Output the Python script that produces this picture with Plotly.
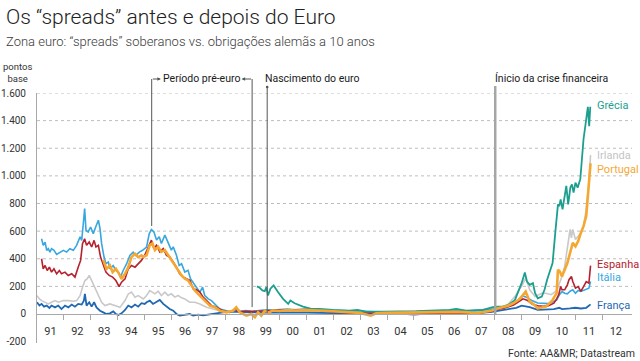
import plotly.graph_objects as go

# ---------------- data (decimal years, basis points) ----------------
italia_t = [1991.17,1991.23,1991.30,1991.36,1991.42,1991.48,1991.54,1991.63,1991.73,1991.85,1991.98,
            1992.10,1992.22,1992.35,1992.47,1992.60,1992.66,1992.72,1992.77,1992.82,1992.90,1992.99,
            1993.09,1993.18,1993.28,1993.34,1993.40,1993.49,1993.56,1993.65,1993.71,1993.83,1993.93,
            1994.02,1994.10,1994.20,1994.33,1994.45,1994.57,1994.67,1994.80,1994.92,
            1995.07,1995.17,1995.25,1995.34,1995.44,1995.54,1995.62,1995.75,1995.87,1995.99,
            1996.06,1996.18,1996.28,1996.37,1996.49,1996.61,1996.70,1996.80,1996.92,
            1997.05,1997.15,1997.23,1997.36,1997.48,1997.60,1997.79,
            1998.04,1998.28,1998.40,1998.55,1998.75,1999.00,1999.25,1999.50,1999.75,
            2000.00,2000.30,2000.60,2001.00,2001.50,2002.00,2002.50,2003.00,2003.50,2004.00,2004.50,
            2005.00,2005.50,2006.00,2006.50,2007.00,2007.50,2007.90,
            2008.10,2008.30,2008.50,2008.70,2008.90,2009.05,2009.20,2009.40,2009.60,2009.80,
            2010.00,2010.20,2010.30,2010.40,2010.50,2010.60,2010.70,2010.80,2010.90,
            2011.00,2011.10,2011.20,2011.30,2011.40,2011.50,2011.56]
italia_v = [545,497,521,461,473,448,473,461,431,448,461,
            448,473,461,497,558,533,654,764,606,594,630,
            582,630,679,618,509,412,364,376,327,351,315,
            303,267,315,364,424,448,424,448,461,
            485,582,612,595,535,559,510,571,510,462,
            486,425,352,364,304,316,255,231,194,
            158,194,134,109,97,73,36,
            24,15,40,20,25,20,25,30,28,
            30,35,30,35,30,25,20,18,15,12,15,
            15,18,22,25,22,28,35,
            45,40,53,70,100,130,120,95,80,75,
            75,90,100,138,163,150,146,165,175,
            150,170,163,170,175,187,235]

espanha_t = [1991.17,1991.23,1991.30,1991.38,1991.46,1991.54,1991.63,1991.73,1991.83,1991.91,
             1992.04,1992.16,1992.29,1992.41,1992.53,1992.62,1992.69,1992.77,1992.84,1992.94,
             1993.03,1993.12,1993.19,1993.28,1993.36,1993.46,1993.56,1993.68,1993.81,1993.93,
             1994.05,1994.14,1994.27,1994.39,1994.51,1994.64,1994.76,1994.88,
             1995.00,1995.13,1995.25,1995.34,1995.44,1995.56,1995.69,1995.81,1995.93,
             1996.06,1996.18,1996.30,1996.43,1996.55,1996.68,1996.80,1996.92,
             1997.05,1997.17,1997.30,1997.48,1997.66,1997.91,
             1998.16,1998.35,1998.50,1998.75,1999.00,1999.25,1999.50,1999.75,
             2000.00,2000.50,2001.00,2001.50,2002.00,2002.50,2003.00,2003.50,2004.00,2004.50,
             2005.00,2005.50,2006.00,2006.50,2007.00,2007.50,2007.90,
             2008.10,2008.30,2008.50,2008.70,2008.90,2009.05,2009.20,2009.40,2009.60,2009.80,
             2010.00,2010.20,2010.30,2010.38,2010.45,2010.50,2010.60,2010.70,2010.76,2010.85,2010.90,
             2011.00,2011.10,2011.20,2011.30,2011.40,2011.50,2011.56]
espanha_v = [400,327,351,315,339,303,327,291,315,291,
             303,279,291,267,339,388,509,545,497,521,
             485,533,485,497,412,364,303,279,267,242,
             199,230,254,327,351,339,364,388,
             425,486,535,474,498,450,474,425,413,
             377,340,292,267,255,243,182,175,
             158,122,97,61,49,24,
             12,35,15,20,18,22,25,25,
             28,30,32,28,15,10,8,5,5,3,
             -5,2,3,5,5,10,20,
             35,40,50,65,90,110,100,70,60,55,
             60,78,110,140,199,175,175,211,248,272,235,
             187,199,163,199,235,223,350]

portugal_t = [1993.46,1993.52,1993.58,1993.71,1993.81,1993.93,
              1994.05,1994.14,1994.27,1994.39,1994.51,1994.64,1994.76,1994.88,1994.94,
              1995.07,1995.19,1995.29,1995.38,1995.50,1995.62,1995.75,1995.87,1995.99,
              1996.12,1996.24,1996.37,1996.49,1996.61,1996.74,1996.86,1996.98,
              1997.11,1997.23,1997.42,1997.60,1997.79,
              1998.04,1998.28,1998.40,1998.53,1998.78,1998.96,
              1999.09,1999.21,1999.33,1999.46,1999.60,1999.75,
              2000.00,2000.30,2000.60,2001.00,2001.50,2002.00,2002.50,2003.00,2003.40,2003.60,
              2004.00,2004.50,2005.00,2005.50,2006.00,2006.50,2007.00,2007.30,2007.60,2007.90,
              2008.10,2008.30,2008.50,2008.70,2008.90,2009.00,2009.15,2009.30,2009.45,2009.60,2009.80,2009.90,
              2010.05,2010.15,2010.22,2010.30,2010.35,2010.42,2010.50,2010.60,2010.70,2010.80,2010.90,
              2011.00,2011.10,2011.20,2011.30,2011.40,2011.45,2011.50,2011.56]
portugal_v = [392,350,327,351,303,327,
              291,254,291,339,412,436,412,424,413,
              425,498,510,462,486,450,462,425,389,
              352,316,279,255,243,207,170,146,
              122,97,61,49,24,
              12,24,49,12,-12,0,
              -24,12,-12,24,10,25,
              22,28,25,28,25,20,15,8,-12,5,
              8,10,8,10,12,15,12,5,15,25,
              40,50,60,78,105,126,163,90,70,41,50,53,
              80,100,126,150,320,308,272,320,369,442,515,
              490,527,587,636,709,830,1000,1090]

irlanda_t = [1991.00,1991.09,1991.17,1991.30,1991.42,1991.54,1991.67,1991.79,1991.98,
             1992.17,1992.35,1992.47,1992.60,1992.69,1992.78,1992.86,1992.94,
             1993.03,1993.15,1993.28,1993.40,1993.52,1993.71,1993.89,
             1994.08,1994.27,1994.39,1994.51,1994.64,1994.76,1994.95,
             1995.07,1995.19,1995.38,1995.50,1995.62,1995.75,1995.87,1995.99,
             1996.12,1996.24,1996.37,1996.49,1996.67,1996.86,
             1997.05,1997.30,1997.54,1997.79,
             1998.16,1998.35,1998.55,1998.80,1999.00,1999.50,
             2000.00,2000.50,2001.00,2001.50,2002.00,2002.50,2003.00,2003.50,2004.00,2004.50,
             2005.00,2005.50,2006.00,2006.50,2007.00,2007.50,2007.90,
             2008.10,2008.30,2008.50,2008.75,2008.90,2009.00,2009.15,2009.30,2009.50,2009.75,2009.90,
             2010.10,2010.30,2010.40,2010.50,2010.60,2010.70,2010.80,2010.85,2010.90,
             2011.00,2011.10,2011.20,2011.30,2011.40,2011.50,2011.56]
irlanda_v = [133,109,97,85,73,85,97,85,97,
             97,92,97,133,194,242,254,279,
             242,194,145,85,61,73,61,
             48,97,145,158,121,133,109,
             134,170,146,165,134,158,134,146,
             122,134,117,109,85,85,
             73,49,36,24,
             12,30,15,10,12,18,
             20,22,20,18,15,10,5,3,3,2,
             0,2,5,8,10,18,30,
             40,55,70,126,175,200,260,175,126,150,150,
             140,170,223,272,345,490,612,551,612,
             539,563,587,636,757,951,1150]

franca_t = [1991.00,1991.09,1991.17,1991.26,1991.36,1991.46,1991.54,1991.67,1991.79,1991.91,
            1992.04,1992.16,1992.29,1992.41,1992.53,1992.66,1992.74,1992.78,1992.84,1992.94,
            1993.03,1993.12,1993.21,1993.34,1993.46,1993.58,1993.71,1993.83,1993.93,
            1994.02,1994.14,1994.27,1994.39,1994.51,1994.64,1994.76,1994.88,
            1995.00,1995.07,1995.19,1995.31,1995.44,1995.56,1995.69,1995.81,1995.93,
            1996.06,1996.18,1996.30,1996.43,1996.55,1996.67,1996.80,1996.98,
            1997.17,1997.42,1997.66,1997.91,1998.22,1998.50,1998.80,1999.10,1999.50,
            2000.00,2000.50,2001.00,2001.50,2002.00,2002.50,2003.00,2003.50,2004.00,2004.50,
            2005.00,2005.50,2006.00,2006.50,2007.00,2007.50,2007.90,
            2008.20,2008.50,2008.80,2009.00,2009.15,2009.30,2009.60,2009.80,
            2010.00,2010.20,2010.40,2010.50,2010.80,2011.00,2011.20,2011.40,2011.56]
franca_v = [85,61,73,53,61,44,61,48,61,36,
            61,48,68,53,73,68,97,145,61,85,
            53,85,48,24,12,0,5,19,0,
            -7,5,29,61,48,68,53,78,
            73,85,97,73,85,102,73,53,36,
            24,0,-12,-7,-5,0,-12,-5,
            -10,-5,5,12,17,15,12,10,10,
            10,12,10,8,5,5,5,3,3,3,
            3,3,3,4,5,8,15,
            25,30,45,60,55,50,30,30,
            32,35,45,35,40,45,40,45,70]

grecia_t = [1999.17,1999.27,1999.37,1999.46,1999.52,1999.58,1999.67,1999.79,1999.95,
            2000.14,2000.33,2000.41,2000.57,2000.88,2001.19,2001.50,2001.99,2002.61,2002.90,
            2003.23,2003.85,2005.09,2006.32,2006.57,2006.94,2007.56,2007.93,
            2008.12,2008.30,2008.50,2008.75,2008.90,2009.00,2009.12,2009.20,2009.30,2009.42,
            2009.50,2009.60,2009.75,2009.85,2009.95,2010.05,2010.15,2010.25,2010.35,2010.40,
            2010.45,2010.52,2010.66,2010.73,2010.81,2010.87,2010.93,
            2011.00,2011.08,2011.18,2011.24,2011.30,2011.36,2011.42,2011.46,2011.51,2011.55]
grecia_v = [200,190,171,166,195,134,183,207,159,
            110,73,98,78,54,37,37,29,24,29,
            17,17,20,29,37,24,29,49,
            54,53,65,100,175,223,300,235,211,223,
            150,114,126,175,250,308,369,587,794,781,
            830,757,927,794,915,939,879,
            951,915,976,1146,1267,1352,1449,1500,1360,1500]

year_labels = ["91","92","93","94","95","96","97","98","99","00","01",
               "02","03","04","05","06","07","08","09","10","11","12"]
y_ticks = [-200, 0, 200, 400, 600, 800, 1000, 1200, 1400, 1600]
y_tick_text = ["-200", "0", "200", "400", "600", "800", "1.000", "1.200", "1.400", "1.600"]

# ---------------- styling ----------------
FONT = "Roboto"
YMIN, YMAX = -210, 1600
XMIN, XMAX = 1991, 2013.1
L, R, T, B = 37, 8, 93, 18
W, H = 640, 361
PW, PH = W - L - R, H - T - B


def py(pix):
    """pixel row -> paper y"""
    return (H - B - pix) / PH


def pv(v):
    """data value -> paper y"""
    return (v - YMIN) / (YMAX - YMIN)


def px_x(p):
    """pixel column -> paper x"""
    return (p - L) / PW


series = [
    ("Irlanda", irlanda_t, irlanda_v, "#c9c9c9", 1.6),
    ("França", franca_t, franca_v, "#1f68b2", 1.8),
    ("Itália", italia_t, italia_v, "#37a7df", 1.6),
    ("Espanha", espanha_t, espanha_v, "#b5222e", 1.6),
    ("Grécia", grecia_t, grecia_v, "#1c9f8f", 1.8),
    ("Portugal", portugal_t, portugal_v, "#f6a732", 2.6),
]

fig = go.Figure()
for name, t, v, col, w in series:
    fig.add_trace(go.Scatter(x=t, y=v, mode="lines", name=name,
                             line=dict(color=col, width=w), showlegend=False,
                             hoverinfo="skip"))

shapes = []
for g in [200, 400, 600, 800, 1000, 1200, 1400, 1600]:
    shapes.append(dict(type="line", xref="paper", yref="y", x0=0, x1=1, y0=g, y1=g,
                       line=dict(color="#bdbdbd", width=1, dash="dot"), layer="below"))

LC = "#555555"
shapes.append(dict(type="line", xref="x", yref="paper", x0=1995.26, x1=1995.26,
                   y0=pv(637), y1=py(79), line=dict(color=LC, width=1)))
shapes.append(dict(type="line", xref="x", yref="paper", x0=1998.99, x1=1998.99,
                   y0=pv(50), y1=py(79), line=dict(color=LC, width=1)))
shapes.append(dict(type="line", xref="x", yref="paper", x0=1999.55, x1=1999.55,
                   y0=pv(7), y1=py(87), line=dict(color=LC, width=1)))
shapes.append(dict(type="circle", xref="x", yref="paper", xsizemode="pixel", ysizemode="pixel",
                   xanchor=1999.55, yanchor=py(87), x0=-1.3, x1=1.3, y0=-1.3, y1=1.3,
                   fillcolor=LC, line=dict(width=0)))
shapes.append(dict(type="line", xref="x", yref="paper", x0=2008.02, x1=2008.02,
                   y0=pv(-8), y1=py(86), line=dict(color="#a6a6a6", width=2.5)))

annotations = []
annotations.append(dict(x=1995.60, y=py(79), xref="x", yref="paper", text="",
                        showarrow=True, ax=-9.5, ay=0, arrowhead=2, arrowsize=0.7,
                        arrowwidth=1, arrowcolor=LC, standoff=0))
annotations.append(dict(x=1998.60, y=py(79), xref="x", yref="paper", text="",
                        showarrow=True, ax=11, ay=0, arrowhead=2, arrowsize=0.7,
                        arrowwidth=1, arrowcolor=LC, standoff=0))


def txt(s, x, y, size, color="#1a1a1a", xanchor="left", xref="paper", yref="paper", weight=None):
    f = dict(family=FONT, size=size, color=color)
    if weight:
        f["weight"] = weight
    annotations.append(dict(text=s, x=x, y=y, xref=xref, yref=yref, xanchor=xanchor,
                            yanchor="middle", showarrow=False, font=f))


txt("Os “spreads” antes e depois do Euro", px_x(4), py(17), 21, "#222222", weight=300)
txt("Zona euro: “spreads” soberanos vs. obrigações alemãs a 10 anos", px_x(4), py(41), 13, "#3a3a3a", weight=300)
txt("pontos<br>base", px_x(1), py(73), 9.5, "#333333")
txt("Período pré-euro", px_x(161), py(79), 10.5)
txt("Nascimento do euro", px_x(263), py(79), 10.5)
txt("Ínicio da crise financeira", px_x(493), py(79), 10.5)
txt("Fonte: AA&MR; Datastream", px_x(637), py(353), 10.5, "#333333", xanchor="right")

for name, yv, col in [("Grécia", 1506, "#1c9f8f"), ("Irlanda", 1144, "#c4c4c4"),
                      ("Portugal", 1043, "#f6a732"), ("Espanha", 355, "#b5222e"),
                      ("Itália", 264, "#37a7df"), ("França", 65, "#1f68b2")]:
    txt(name, 2011.74, yv, 11, col, xref="x", yref="y")

fig.update_layout(
    width=W, height=H,
    margin=dict(l=L, r=R, t=T, b=B, pad=0, autoexpand=False),
    paper_bgcolor="white", plot_bgcolor="white",
    shapes=shapes, annotations=annotations,
    font=dict(family=FONT, color="#333333"),
    xaxis=dict(range=[XMIN, XMAX], anchor="free", position=pv(0), automargin=False,
               showline=True, linecolor="#a8a8a8", linewidth=1,
               showgrid=False, zeroline=False,
               tickvals=[1991.5 + i for i in range(len(year_labels))], ticktext=year_labels,
               ticks="", ticklabelstandoff=7,
               tickfont=dict(family=FONT, size=11, color="#333333"),
               minor=dict(tickvals=list(range(1992, 2013)), ticks="outside", ticklen=5,
                          tickcolor="#a8a8a8", showgrid=False)),
    yaxis=dict(range=[YMIN, YMAX], automargin=False, showline=True, linecolor="#a8a8a8", linewidth=1,
               showgrid=False, zeroline=False, ticks="",
               tickvals=y_ticks, ticktext=y_tick_text, ticklabelstandoff=8,
               tickfont=dict(family=FONT, size=10, color="#333333")),
)

fig.write_html("out.html", config={"displayModeBar": False},
               post_script="document.body.style.margin='0';")
